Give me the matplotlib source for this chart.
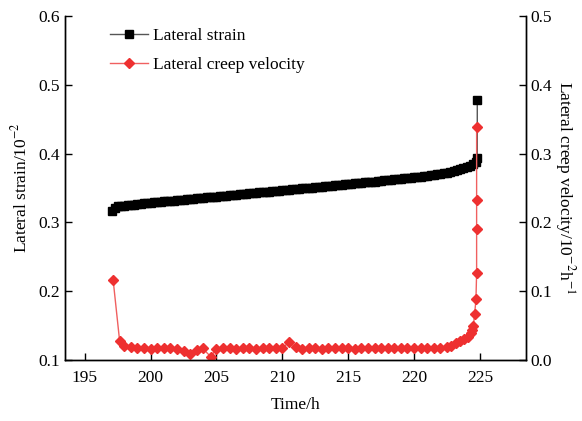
import matplotlib.pyplot as plt

plt.rcParams['font.family'] = ['Liberation Serif', 'DejaVu Serif']
plt.rcParams['mathtext.fontset'] = 'stix'

# lateral strain (left axis, 10^-2)
t_strain = [197.1, 197.3, 197.5, 197.75,
            198.0, 198.25, 198.5, 198.75, 199.0, 199.25, 199.5, 199.75,
            200.0, 200.25, 200.5, 200.75, 201.0, 201.25, 201.5, 201.75,
            202.0, 202.25, 202.5, 202.75, 203.0, 203.25, 203.5, 203.75,
            204.0, 204.25, 204.5, 204.75, 205.0, 205.25, 205.5, 205.75,
            206.0, 206.25, 206.5, 206.75, 207.0, 207.25, 207.5, 207.75,
            208.0, 208.25, 208.5, 208.75, 209.0, 209.25, 209.5, 209.75,
            210.0, 210.25, 210.5, 210.75, 211.0, 211.25, 211.5, 211.75,
            212.0, 212.25, 212.5, 212.75, 213.0, 213.25, 213.5, 213.75,
            214.0, 214.25, 214.5, 214.75, 215.0, 215.25, 215.5, 215.75,
            216.0, 216.25, 216.5, 216.75, 217.0, 217.25, 217.5, 217.75,
            218.0, 218.25, 218.5, 218.75, 219.0, 219.25, 219.5, 219.75,
            220.0, 220.25, 220.5, 220.75, 221.0, 221.25, 221.5, 221.75,
            222.0, 222.25, 222.5, 222.75, 223.0, 223.25, 223.5, 223.75,
            224.0, 224.25, 224.5, 224.7, 224.8, 224.8]
strain = [0.3160, 0.3215, 0.3232, 0.3238,
          0.3245, 0.3250, 0.3255, 0.3260, 0.3265, 0.3270, 0.3275, 0.3280,
          0.3285, 0.3290, 0.3295, 0.3300, 0.3305, 0.3309, 0.3313, 0.3318,
          0.3322, 0.3327, 0.3331, 0.3336, 0.3340, 0.3345, 0.3349, 0.3354,
          0.3358, 0.3363, 0.3367, 0.3372, 0.3376, 0.3381, 0.3385, 0.3390,
          0.3394, 0.3399, 0.3403, 0.3408, 0.3412, 0.3417, 0.3421, 0.3426,
          0.3430, 0.3435, 0.3439, 0.3444, 0.3448, 0.3453, 0.3457, 0.3462,
          0.3466, 0.3471, 0.3475, 0.3480, 0.3484, 0.3489, 0.3493, 0.3498,
          0.3502, 0.3507, 0.3511, 0.3516, 0.3520, 0.3525, 0.3529, 0.3534,
          0.3538, 0.3543, 0.3547, 0.3552, 0.3556, 0.3561, 0.3566, 0.3570,
          0.3575, 0.3580, 0.3585, 0.3589, 0.3594, 0.3599, 0.3604, 0.3609,
          0.3614, 0.3619, 0.3624, 0.3629, 0.3634, 0.3639, 0.3644, 0.3650,
          0.3655, 0.3661, 0.3666, 0.3672, 0.3678, 0.3684, 0.3691, 0.3698,
          0.3705, 0.3714, 0.3724, 0.3734, 0.3745, 0.3758, 0.3772, 0.3788,
          0.3805, 0.3825, 0.3850, 0.3880, 0.3930, 0.4780]

# lateral creep velocity (right axis, 10^-2 h^-1)
t_vel = [197.15, 197.65, 197.95, 198.5, 199.0, 199.5, 200.0, 200.5, 201.0, 201.5,
         202.0, 202.5, 203.0, 203.5, 203.95, 204.55, 205.0, 205.5, 206.0, 206.5,
         207.0, 207.5, 208.0, 208.5, 209.0, 209.5, 210.0, 210.5, 211.0, 211.5,
         212.0, 212.5, 213.0, 213.5, 214.0, 214.5, 215.0, 215.5, 216.0, 216.5,
         217.0, 217.5, 218.0, 218.5, 219.0, 219.5, 220.0, 220.5, 221.0, 221.5,
         222.0, 222.5, 222.8, 223.2, 223.5, 223.8, 224.1, 224.3, 224.4, 224.5,
         224.6, 224.7, 224.75, 224.75, 224.75, 224.75]
velocity = [0.117, 0.027, 0.021, 0.019, 0.018, 0.018, 0.016, 0.017, 0.017, 0.018,
            0.016, 0.013, 0.009, 0.015, 0.017, 0.005, 0.016, 0.017, 0.017, 0.016,
            0.017, 0.017, 0.016, 0.017, 0.017, 0.018, 0.017, 0.026, 0.019, 0.016,
            0.017, 0.017, 0.016, 0.017, 0.017, 0.017, 0.017, 0.016, 0.017, 0.017,
            0.017, 0.018, 0.017, 0.017, 0.017, 0.018, 0.017, 0.018, 0.017, 0.017,
            0.018, 0.019, 0.021, 0.024, 0.027, 0.030, 0.034, 0.039, 0.044, 0.049,
            0.067, 0.088, 0.127, 0.190, 0.232, 0.339]

fig = plt.figure(figsize=(5.82, 4.21), dpi=100)
ax1 = fig.add_axes([0.1117, 0.1449, 0.7921, 0.8171])
ax2 = ax1.twinx()

l1, = ax1.plot(t_strain, strain, '-', color='#555555', lw=1, marker='s',
               ms=6, mfc='black', mec='black', label='Lateral strain')
l2, = ax2.plot(t_vel, velocity, '-', color='#f06060', lw=1, marker='D',
               ms=5.5, mfc='#ee3030', mec='#ee3030', label='Lateral creep velocity')

ax1.set_xlim(193.5, 228.5)
ax1.set_ylim(0.1, 0.6)
ax2.set_ylim(0.0, 0.5)
ax1.set_xticks([195, 200, 205, 210, 215, 220, 225])
ax1.set_yticks([0.1, 0.2, 0.3, 0.4, 0.5, 0.6])
ax2.set_yticks([0.0, 0.1, 0.2, 0.3, 0.4, 0.5])
ax1.yaxis.set_major_formatter(plt.FormatStrFormatter('%.1f'))
ax2.yaxis.set_major_formatter(plt.FormatStrFormatter('%.1f'))

for ax in (ax1, ax2):
    ax.spines['top'].set_visible(False)
    for s in ax.spines.values():
        s.set_linewidth(1.0)
    ax.tick_params(direction='in', length=5, width=1, labelsize=12.5)
ax1.tick_params(axis='x', pad=7)

ax1.set_xlabel('Time/h', fontsize=12.5, labelpad=8)
ax1.set_ylabel('Lateral strain/10$^{-2}$', fontsize=12.5, labelpad=6)
ax2.set_ylabel('Lateral creep velocity/10$^{-2}$h$^{-1}$', fontsize=12.5,
               rotation=270, labelpad=18)

ax1.legend(handles=[l1, l2], loc='upper left', bbox_to_anchor=(0.063, 1.012),
           frameon=False, fontsize=12.5, handlelength=2.2, labelspacing=0.75,
           handletextpad=0.3)

fig.savefig('out.png', dpi=100)
